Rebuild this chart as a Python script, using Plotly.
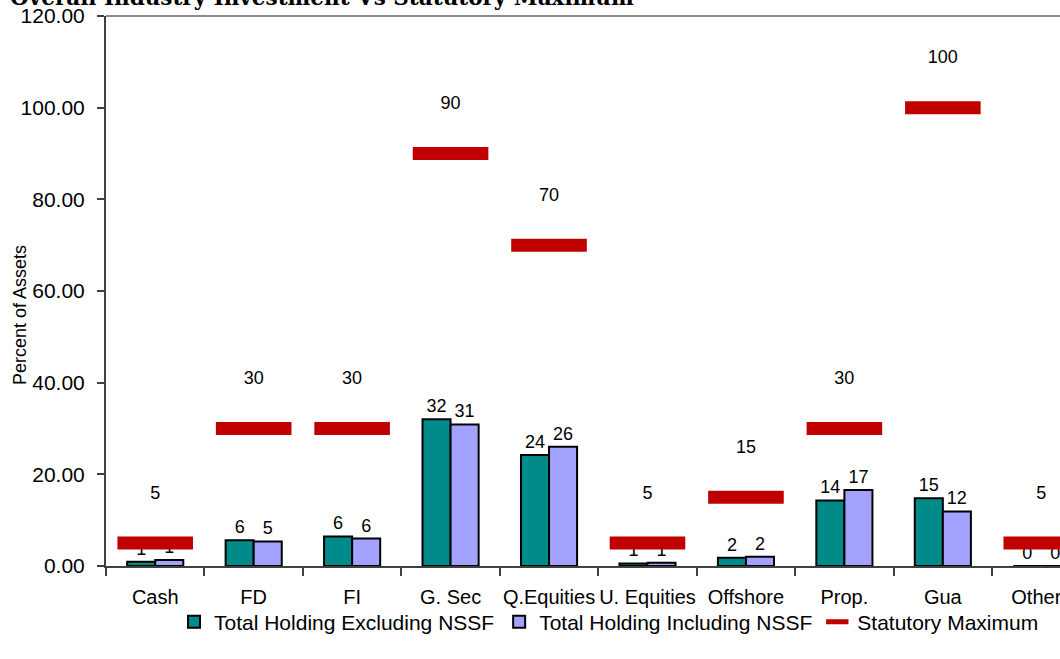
import plotly.graph_objects as go

categories = ["Cash", "FD", "FI", "G. Sec", "Q.Equities", "U. Equities",
              "Offshore", "Prop.", "Gua", "Others"]
excl_nssf = [0.95, 5.6, 6.45, 32.0, 24.2, 0.55, 1.8, 14.3, 14.8, 0.0]
incl_nssf = [1.3, 5.35, 6.0, 30.9, 26.0, 0.7, 2.0, 16.6, 11.9, 0.0]
stat_max = [5, 30, 30, 90, 70, 5, 15, 30, 100, 5]
y_ticks = [0, 20, 40, 60, 80, 100, 120]

FONT = "Liberation Sans, Arial, sans-serif"
W, H = 1060, 659
# plot area in page pixels: x 106..1060, y 16..566
L, R, T, B = 106, 0, 16, H - 566
pw, ph = W - L - R, H - T - B


def px_x(x):  # page pixel -> paper x
    return (x - L) / pw


def px_y(y):  # page pixel -> paper y
    return (H - B - y) / ph


fig = go.Figure()
fig.add_bar(x=categories, y=excl_nssf, name="Total Holding Excluding NSSF",
            marker=dict(color="#008B8B", line=dict(color="black", width=2)),
            texttemplate="%{y:.0f}", textposition="outside",
            textfont=dict(size=18, color="black"), cliponaxis=False)
fig.add_bar(x=categories, y=incl_nssf, name="Total Holding Including NSSF",
            marker=dict(color="#A3A3FF", line=dict(color="black", width=2)),
            texttemplate="%{y:.0f}", textposition="outside",
            textfont=dict(size=18, color="black"), cliponaxis=False)
# red dashes for the statutory maximum
fig.add_scatter(x=categories, y=stat_max, name="Statutory Maximum", mode="markers",
                marker=dict(symbol="line-ew", size=54, color="#C00000",
                            line=dict(color="#C00000", width=13)),
                cliponaxis=False)
# labels for the maximum, lifted above the dash by an invisible marker
fig.add_scatter(x=categories, y=stat_max, mode="markers+text", showlegend=False,
                marker=dict(size=62, color="rgba(0,0,0,0)"),
                text=[str(v) for v in stat_max], textposition="top center",
                textfont=dict(size=18, color="black"), cliponaxis=False,
                hoverinfo="skip")

# title sits partly above the visible page, like the cropped original
fig.add_annotation(text="<b>Overall Industry Investment Vs Statutory Maximum</b>",
                   xref="paper", yref="paper", x=px_x(8), y=1,
                   xanchor="left", yanchor="middle", yshift=19, showarrow=False,
                   font=dict(family="DejaVu Serif, serif", size=21.5, color="black"))
fig.add_annotation(text="Percent of Assets", textangle=-90,
                   xref="paper", yref="paper", x=px_x(20), y=px_y(315),
                   xanchor="center", yanchor="middle", showarrow=False,
                   font=dict(family=FONT, size=18, color="black"))
fig.add_shape(type="line", xref="paper", yref="paper", x0=0, x1=1, y0=1, y1=1,
              line=dict(color="#8C8C8C", width=2))

fig.update_layout(
    width=W, height=H,
    margin=dict(l=L, r=R, t=T, b=B, pad=0, autoexpand=False),
    paper_bgcolor="white", plot_bgcolor="white",
    barmode="group", bargap=0.43, bargroupgap=0,
    font=dict(family=FONT, size=20, color="black"),
    showlegend=True,
    legend=dict(orientation="h", x=px_x(174), y=px_y(622),
                xanchor="left", yanchor="middle", font=dict(size=21),
                bgcolor="rgba(0,0,0,0)", itemwidth=30, tracegroupgap=0),
)
fig.update_xaxes(range=[-0.5, 9.19], showline=True, linecolor="#404040", linewidth=2,
                 ticks="outside", tickson="boundaries", ticklen=8, tickwidth=1.5,
                 tickcolor="#404040", showgrid=False, tickfont=dict(size=20),
                 tickangle=0, automargin=False, ticklabelstandoff=12)
fig.update_yaxes(range=[0, 120], tickvals=y_ticks, tickformat=".2f",
                 showline=True, linecolor="#404040", linewidth=2,
                 ticks="outside", ticklen=7, tickwidth=1.5, tickcolor="#404040",
                 showgrid=False, zeroline=False, tickfont=dict(size=21),
                 automargin=False, ticklabelstandoff=8, ticklabeloverflow="allow")

# drop the default body margin so the figure fills the window exactly
fig.write_html("out.html", config={"displayModeBar": False},
               post_script="document.body.style.margin='0';")
